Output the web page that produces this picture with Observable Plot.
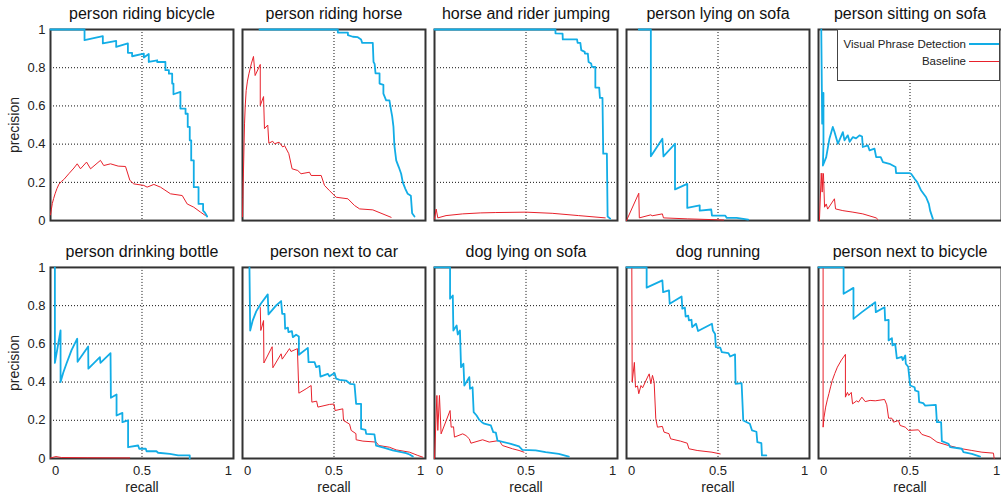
<!DOCTYPE html>
<html><head><meta charset="utf-8">
<script src="https://cdn.jsdelivr.net/npm/d3@7"></script>
<script src="https://cdn.jsdelivr.net/npm/@observablehq/plot@0.6"></script>
<style>
body{margin:0;background:#fff;font-family:"Liberation Sans",Arial,Helvetica,sans-serif;}
#wrap{position:relative;width:1001px;height:493px;}
#legend{position:absolute;left:837px;top:29px;width:163px;height:52px;border:1px solid #444;background:#fff;font-size:11.5px;color:#222;box-sizing:border-box;}
#legend .row{position:absolute;right:0;height:14px;display:flex;align-items:center;}
#legend .sw{display:inline-block;width:30px;margin-left:3px;}
</style></head><body><div id="wrap"></div>
<script>
const titles = ["person riding bicycle","person riding horse","horse and rider jumping","person lying on sofa","person sitting on sofa",
  "person drinking bottle","person next to car","dog lying on sofa","dog running","person next to bicycle"];
const seriesNames = ["Visual Phrase Detection","Baseline"];
const seriesColors = ["#12ade6","#e8212b"];
const xTicks = [0, 0.5, 1];
const yTicks = [0, 0.2, 0.4, 0.6, 0.8, 1];

// [recall, precision] pairs
const vpdRidingBicycle = [[0,1],[0.186,1],[0.186,0.944],[0.286,0.965],[0.286,0.927],[0.359,0.94],[0.359,0.909],[0.423,0.927],[0.423,0.878],[0.446,0.878],[0.446,0.86],[0.51,0.874],[0.51,0.853],[0.537,0.872],[0.537,0.83],[0.583,0.839],[0.583,0.83],[0.628,0.83],[0.628,0.787],[0.647,0.787],[0.647,0.769],[0.665,0.769],[0.665,0.717],[0.672,0.717],[0.672,0.661],[0.71,0.673],[0.71,0.586],[0.738,0.586],[0.738,0.559],[0.75,0.559],[0.75,0.49],[0.761,0.49],[0.761,0.42],[0.769,0.42],[0.769,0.315],[0.783,0.315],[0.783,0.175],[0.809,0.175],[0.809,0.087],[0.834,0.087],[0.834,0.052],[0.845,0.04],[0.856,0.021]];
const baseRidingBicycle = [[0,0.03],[0.005,0.06],[0.01,0.09],[0.017,0.115],[0.025,0.14],[0.035,0.167],[0.046,0.19],[0.06,0.205],[0.073,0.215],[0.1,0.245],[0.128,0.275],[0.146,0.297],[0.164,0.271],[0.197,0.306],[0.219,0.271],[0.273,0.315],[0.291,0.288],[0.328,0.297],[0.37,0.285],[0.41,0.283],[0.434,0.21],[0.455,0.192],[0.51,0.184],[0.528,0.175],[0.565,0.189],[0.601,0.175],[0.656,0.14],[0.72,0.131],[0.747,0.087],[0.783,0.07],[0.82,0.044],[0.847,0.026]];

const vpdRidingHorse = [[0.093,1],[0.521,1],[0.521,0.984],[0.576,0.984],[0.576,0.97],[0.603,0.962],[0.63,0.96],[0.648,0.948],[0.654,0.93],[0.712,0.93],[0.716,0.83],[0.722,0.82],[0.727,0.77],[0.749,0.77],[0.749,0.717],[0.77,0.71],[0.77,0.664],[0.785,0.629],[0.803,0.629],[0.812,0.577],[0.818,0.545],[0.825,0.49],[0.83,0.393],[0.84,0.315],[0.854,0.28],[0.867,0.245],[0.876,0.2],[0.89,0.166],[0.903,0.14],[0.92,0.13],[0.927,0.038],[0.94,0.021]];
const baseRidingHorse = [[0,0.02],[0.002,0.12],[0.003,0.18],[0.005,0.244],[0.008,0.38],[0.011,0.506],[0.015,0.6],[0.02,0.68],[0.027,0.73],[0.035,0.768],[0.048,0.82],[0.06,0.859],[0.069,0.759],[0.097,0.817],[0.097,0.602],[0.115,0.649],[0.12,0.481],[0.138,0.5],[0.144,0.405],[0.165,0.415],[0.175,0.402],[0.2,0.41],[0.22,0.385],[0.23,0.392],[0.253,0.35],[0.271,0.271],[0.302,0.262],[0.32,0.245],[0.366,0.253],[0.375,0.236],[0.43,0.236],[0.448,0.184],[0.475,0.157],[0.512,0.122],[0.576,0.114],[0.612,0.079],[0.64,0.061],[0.712,0.056],[0.812,0.017]];

const vpdJumping = [[0,1],[0.661,1],[0.661,0.98],[0.7,0.978],[0.701,0.948],[0.779,0.948],[0.782,0.93],[0.797,0.93],[0.802,0.892],[0.821,0.883],[0.822,0.874],[0.838,0.874],[0.842,0.83],[0.856,0.822],[0.86,0.804],[0.879,0.804],[0.879,0.696],[0.9,0.696],[0.904,0.642],[0.918,0.642],[0.922,0.35],[0.942,0.35],[0.946,0.021],[0.96,0.01]];
const baseJumping = [[0,0.008],[0.009,0.06],[0.018,0.014],[0.063,0.026],[0.154,0.035],[0.25,0.04],[0.335,0.042],[0.5,0.044],[0.643,0.038],[0.788,0.026],[0.933,0.014]];

const vpdLyingSofa = [[0.067,1],[0.133,1],[0.133,0.336],[0.196,0.428],[0.202,0.336],[0.265,0.402],[0.265,0.163],[0.332,0.192],[0.332,0.066],[0.4,0.079],[0.4,0.052],[0.463,0.058],[0.467,0.026],[0.539,0.026],[0.548,0.014],[0.602,0.014],[0.665,0.005]];
const baseLyingSofa = [[0,0],[0.067,0.143],[0.07,0.014],[0.133,0.03],[0.14,0.025],[0.196,0.035],[0.202,0.014],[0.332,0.009],[0.467,0.005],[0.53,0.003]];

const vpdSittingSofa = [[0.015,1],[0.02,0.507],[0.027,0.668],[0.027,0.402],[0.024,0.288],[0.042,0.332],[0.06,0.43],[0.078,0.49],[0.087,0.465],[0.106,0.402],[0.133,0.463],[0.142,0.42],[0.16,0.446],[0.17,0.412],[0.188,0.437],[0.205,0.43],[0.224,0.446],[0.238,0.44],[0.242,0.385],[0.27,0.393],[0.279,0.367],[0.306,0.376],[0.315,0.332],[0.34,0.332],[0.352,0.306],[0.388,0.297],[0.421,0.28],[0.424,0.248],[0.497,0.248],[0.506,0.245],[0.525,0.219],[0.54,0.2],[0.561,0.157],[0.588,0.122],[0.603,0.087],[0.61,0.052],[0.625,0.009]];
const baseSittingSofa = [[0.005,0],[0.015,0.248],[0.02,0.149],[0.024,0.248],[0.027,0.245],[0.033,0.07],[0.042,0.087],[0.05,0.06],[0.087,0.114],[0.093,0.061],[0.133,0.052],[0.188,0.044],[0.242,0.035],[0.315,0.014],[0.325,0.005]];

const vpdDrinkingBottle = [[0.024,1],[0.024,0.5],[0.055,0.67],[0.055,0.4],[0.07,0.45],[0.087,0.496],[0.115,0.567],[0.146,0.627],[0.148,0.506],[0.206,0.586],[0.207,0.47],[0.27,0.53],[0.273,0.5],[0.328,0.551],[0.33,0.318],[0.361,0.335],[0.361,0.225],[0.393,0.239],[0.393,0.19],[0.424,0.199],[0.424,0.059],[0.479,0.068],[0.485,0.051],[0.521,0.051],[0.525,0.038],[0.579,0.038],[0.588,0.03],[0.652,0.024],[0.698,0.016],[0.761,0.016],[0.761,0]];
const baseDrinkingBottle = [[0,0.003],[0.03,0.01],[0.06,0.005],[0.2,0.004],[0.433,0.003]];

const vpdNextToCar = [[0.038,1],[0.042,0.67],[0.055,0.72],[0.075,0.77],[0.1,0.81],[0.138,0.859],[0.142,0.754],[0.184,0.801],[0.211,0.824],[0.217,0.757],[0.23,0.757],[0.233,0.679],[0.248,0.685],[0.251,0.661],[0.27,0.667],[0.275,0.635],[0.293,0.648],[0.308,0.639],[0.308,0.543],[0.357,0.579],[0.361,0.504],[0.394,0.504],[0.403,0.478],[0.42,0.485],[0.426,0.429],[0.466,0.443],[0.475,0.43],[0.503,0.447],[0.512,0.418],[0.53,0.412],[0.566,0.408],[0.588,0.391],[0.612,0.388],[0.621,0.286],[0.648,0.286],[0.648,0.155],[0.672,0.15],[0.676,0.129],[0.721,0.126],[0.73,0.068],[0.776,0.056],[0.821,0.042],[0.894,0.028],[0.913,0.021],[0.931,0.01]];
const baseNextToCar = [[0.097,0.79],[0.1,0.67],[0.115,0.722],[0.117,0.5],[0.162,0.585],[0.166,0.475],[0.211,0.548],[0.217,0.52],[0.257,0.575],[0.265,0.56],[0.3,0.575],[0.308,0.342],[0.348,0.365],[0.375,0.382],[0.379,0.295],[0.405,0.3],[0.412,0.269],[0.475,0.283],[0.5,0.285],[0.506,0.251],[0.548,0.26],[0.552,0.199],[0.585,0.18],[0.594,0.147],[0.62,0.13],[0.621,0.098],[0.658,0.091],[0.73,0.086],[0.745,0.068],[0.803,0.059],[0.84,0.045],[0.913,0.033],[0.958,0.016],[0.985,0.007]];

const vpdDogSofa = [[0,1],[0.085,1],[0.085,0.836],[0.1,0.853],[0.103,0.67],[0.121,0.696],[0.127,0.649],[0.139,0.67],[0.145,0.478],[0.158,0.496],[0.163,0.382],[0.19,0.426],[0.194,0.365],[0.208,0.373],[0.214,0.243],[0.23,0.225],[0.245,0.202],[0.259,0.19],[0.272,0.182],[0.308,0.173],[0.321,0.138],[0.335,0.136],[0.344,0.094],[0.417,0.077],[0.462,0.063],[0.48,0.045],[0.553,0.042],[0.607,0.033],[0.679,0.024],[0.734,0.01]];
const baseDogSofa = [[0,0],[0.013,0.33],[0.018,0.147],[0.027,0.33],[0.036,0.129],[0.085,0.251],[0.091,0.164],[0.104,0.166],[0.109,0.112],[0.154,0.129],[0.172,0.12],[0.19,0.103],[0.199,0.08],[0.263,0.098],[0.299,0.086],[0.353,0.094],[0.371,0.068],[0.426,0.051],[0.462,0.042],[0.489,0.033]];

const vpdDogRunning = [[0,1],[0.11,1],[0.11,0.894],[0.196,0.932],[0.2,0.871],[0.232,0.88],[0.236,0.81],[0.301,0.848],[0.305,0.784],[0.319,0.79],[0.323,0.743],[0.337,0.748],[0.341,0.723],[0.355,0.726],[0.359,0.688],[0.38,0.705],[0.391,0.667],[0.467,0.705],[0.472,0.67],[0.484,0.652],[0.488,0.583],[0.512,0.58],[0.521,0.557],[0.557,0.552],[0.566,0.534],[0.593,0.545],[0.596,0.391],[0.629,0.394],[0.638,0.199],[0.674,0.182],[0.686,0.147],[0.71,0.14],[0.715,0.086],[0.737,0.08],[0.74,0.016],[0.764,0.016]];
const baseDogRunning = [[0.029,1],[0.031,0.4],[0.043,0.503],[0.049,0.373],[0.06,0.38],[0.067,0.339],[0.079,0.382],[0.088,0.37],[0.115,0.426],[0.124,0.443],[0.133,0.391],[0.142,0.435],[0.151,0.4],[0.16,0.208],[0.169,0.164],[0.196,0.168],[0.205,0.138],[0.232,0.13],[0.241,0.103],[0.295,0.091],[0.332,0.08],[0.341,0.051],[0.386,0.042],[0.467,0.033],[0.512,0.024]];

const vpdNextToBicycle = [[0,1],[0.137,1],[0.137,0.862],[0.191,0.893],[0.191,0.731],[0.237,0.766],[0.31,0.818],[0.313,0.766],[0.361,0.792],[0.364,0.723],[0.383,0.726],[0.383,0.618],[0.401,0.63],[0.404,0.592],[0.419,0.6],[0.428,0.524],[0.455,0.532],[0.46,0.515],[0.474,0.539],[0.477,0.496],[0.49,0.48],[0.501,0.382],[0.525,0.373],[0.528,0.356],[0.546,0.35],[0.55,0.295],[0.572,0.29],[0.583,0.277],[0.641,0.281],[0.647,0.19],[0.67,0.19],[0.674,0.091],[0.71,0.077],[0.72,0.059],[0.783,0.051],[0.792,0.033],[0.838,0.024],[0.883,0.01]];
const baseNextToBicycle = [[0.025,1],[0.025,0.164],[0.03,0.215],[0.039,0.269],[0.048,0.307],[0.057,0.34],[0.066,0.375],[0.075,0.408],[0.089,0.445],[0.103,0.478],[0.125,0.515],[0.147,0.545],[0.147,0.321],[0.158,0.346],[0.165,0.33],[0.179,0.346],[0.186,0.286],[0.209,0.302],[0.218,0.295],[0.237,0.321],[0.255,0.298],[0.282,0.304],[0.31,0.302],[0.361,0.309],[0.373,0.281],[0.383,0.211],[0.4,0.211],[0.41,0.19],[0.437,0.199],[0.446,0.173],[0.474,0.164],[0.492,0.147],[0.546,0.15],[0.565,0.126],[0.61,0.112],[0.647,0.086],[0.71,0.068],[0.783,0.051],[0.838,0.042],[0.893,0.033],[0.956,0.028],[0.96,0]];

const vpdCurves = [vpdRidingBicycle,vpdRidingHorse,vpdJumping,vpdLyingSofa,vpdSittingSofa,vpdDrinkingBottle,vpdNextToCar,vpdDogSofa,vpdDogRunning,vpdNextToBicycle];
const baseCurves = [baseRidingBicycle,baseRidingHorse,baseJumping,baseLyingSofa,baseSittingSofa,baseDrinkingBottle,baseNextToCar,baseDogSofa,baseDogRunning,baseNextToBicycle];

const panels = titles.map((t, i) => ({title: t, col: i % 5, row: Math.floor(i / 5)}));
function toRows(curves, series) {
  const out = [];
  curves.forEach((c, i) => c.forEach(([r, p]) => out.push({panel: titles[i], col: panels[i].col, row: panels[i].row, series, recall: r, precision: p})));
  return out;
}
const vpdRows = toRows(vpdCurves, seriesNames[0]);
const baseRows = toRows(baseCurves, seriesNames[1]);

const font = '"Liberation Sans", Arial, Helvetica, sans-serif';
const fmt = d => String(d);
const gridStyle = {stroke: "#111", strokeOpacity: 1, strokeDasharray: "1,2", strokeWidth: 1};

const chart = Plot.plot({
  width: 1001, height: 493,
  marginLeft: 50, marginRight: 0, marginTop: 29, marginBottom: 35,
  style: {fontFamily: font, fontSize: "13px", color: "#222", background: "white", overflow: "visible"},
  fx: {domain: [0,1,2,3,4], paddingInner: 0.047, paddingOuter: 0, round: false, axis: null},
  fy: {domain: [0,1], paddingInner: 0.197, paddingOuter: 0, round: false, axis: null},
  x: {domain: [0, 1]},
  y: {domain: [0, 1]},
  marks: [
    Plot.gridY({ticks: yTicks.slice(1, -1), ...gridStyle}),
    Plot.gridX({ticks: [0.5], ...gridStyle}),
    Plot.frame({stroke: "#333", strokeWidth: 2}),
    Plot.axisY({ticks: yTicks, tickSize: 0, tickPadding: 5, tickFormat: fmt, label: null, facetAnchor: "left", fontSize: 13}),
    Plot.axisX({ticks: [xTicks[0]], tickSize: 0, tickPadding: 7, tickFormat: fmt, label: null, facetAnchor: "bottom", dx: 5, fontSize: 13}),
    Plot.axisX({ticks: [xTicks[1]], tickSize: 0, tickPadding: 7, tickFormat: fmt, label: null, facetAnchor: "bottom", fontSize: 13}),
    Plot.axisX({ticks: [xTicks[2]], tickSize: 0, tickPadding: 7, tickFormat: fmt, label: null, facetAnchor: "bottom", dx: -5, fontSize: 13}),
    Plot.line(baseRows, {x: "recall", y: "precision", fx: "col", fy: "row", stroke: seriesColors[1], strokeWidth: 1, curve: "linear"}),
    Plot.line(vpdRows, {x: "recall", y: "precision", fx: "col", fy: "row", stroke: seriesColors[0], strokeWidth: 1.8, curve: "linear"}),
    Plot.text(panels, {fx: "col", fy: "row", text: "title", frameAnchor: "top", lineAnchor: "middle", textAnchor: "middle", dy: -16, fontSize: 16, fill: "#111"}),
    Plot.text(panels.filter(d => d.row === 1), {fx: "col", fy: "row", text: () => "recall", frameAnchor: "bottom", lineAnchor: "middle", textAnchor: "middle", dy: 29, fontSize: 14, fill: "#222"}),
    Plot.text(panels.filter(d => d.col === 0), {fx: "col", fy: "row", text: () => "precision", frameAnchor: "left", lineAnchor: "middle", textAnchor: "middle", dx: -36, rotate: -90, fontSize: 14, fill: "#222"})
  ]
});
const wrap = document.getElementById("wrap");
wrap.appendChild(chart);

const legend = document.createElement("div");
legend.id = "legend";
seriesNames.forEach((name, i) => {
  const row = document.createElement("div");
  row.className = "row";
  row.style.top = (i === 0 ? 7 : 24) + "px";
  const label = document.createElement("span");
  label.textContent = name;
  const sw = document.createElement("span");
  sw.className = "sw";
  sw.style.borderTop = (i === 0 ? 2 : 1) + "px solid " + seriesColors[i];
  row.appendChild(label);
  row.appendChild(sw);
  legend.appendChild(row);
});
wrap.appendChild(legend);
</script></body></html>
